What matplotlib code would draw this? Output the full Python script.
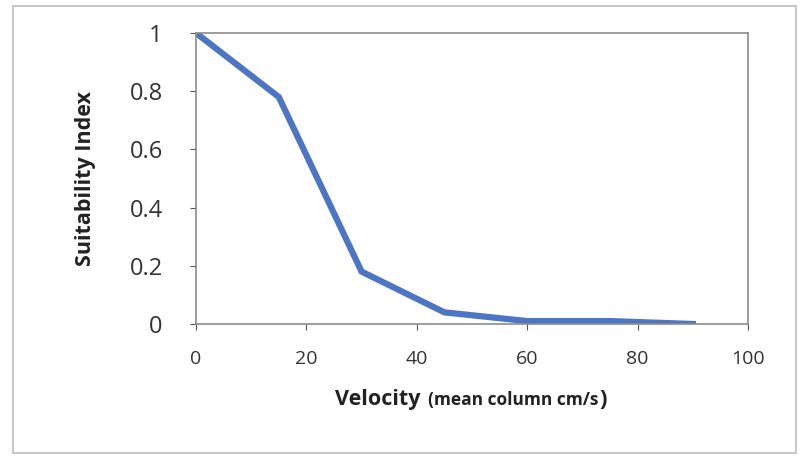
import matplotlib
matplotlib.use("Agg")
from matplotlib import pyplot as plt
from matplotlib.patches import Rectangle

# ------ data ------ #
velocity = [0, 15, 30, 45, 60, 75, 90]
suitability = [1.0, 0.78, 0.18, 0.04, 0.01, 0.01, 0.0]
x_ticks = [0, 20, 40, 60, 80, 100]
y_ticks = [0, 0.2, 0.4, 0.6, 0.8, 1]
y_tick_labels = ["0", "0.2", "0.4", "0.6", "0.8", "1"]

plt.rcParams['font.family'] = ['Open Sans', 'DejaVu Sans']

W, H = 801, 458
fig = plt.figure(figsize=(W / 100, H / 100), dpi=100)
fig.patch.set_facecolor("white")
# outer chart border
fig.patches.append(Rectangle((13 / W, 5 / H), 783 / W, 447 / H, transform=fig.transFigure,
                             fill=False, edgecolor="#c8c8c8", linewidth=1.5))

ax = fig.add_axes([196 / W, (H - 324) / H, 552 / W, 291 / H])
ax.plot(velocity, suitability, color="#4c76c4", linewidth=4.5, solid_joinstyle="miter")

ax.set_xlim(0, 100)
ax.set_ylim(0, 1)
ax.set_xticks(x_ticks)
ax.set_yticks(y_ticks)
ax.set_yticklabels(y_tick_labels)
ax.tick_params(axis="x", labelsize=14, colors="#555555", labelcolor="#333333", direction="out", length=4, pad=15)
ax.tick_params(axis="y", labelsize=17, colors="#555555", labelcolor="#333333", direction="out", length=4, pad=20)
for s in ax.spines.values():
    s.set_color("#8c8c8c")
    s.set_linewidth(1.2)

ax.set_ylabel("Suitability Index", fontsize=15.5, fontweight="bold", color="#222222", labelpad=24)

# x label with a small-print unit part, chained one after another
base_y = (H - 405) / H
fig.canvas.draw()
r = fig.canvas.get_renderer()
t1 = fig.text(335 / W, base_y, "Velocity", fontsize=15.5, fontweight="bold", color="#222222",
              ha="left", va="baseline")
end1 = t1.get_window_extent(r).x1
t2 = fig.text((end1 + 7) / W, base_y, "(mean column cm/s", fontsize=12.5, fontweight="bold",
              color="#222222", ha="left", va="baseline")
end2 = t2.get_window_extent(r).x1
fig.text((end2 + 1) / W, base_y, ")", fontsize=16, fontweight="bold", color="#222222",
         ha="left", va="baseline")

fig.savefig("out.png", dpi=100)
